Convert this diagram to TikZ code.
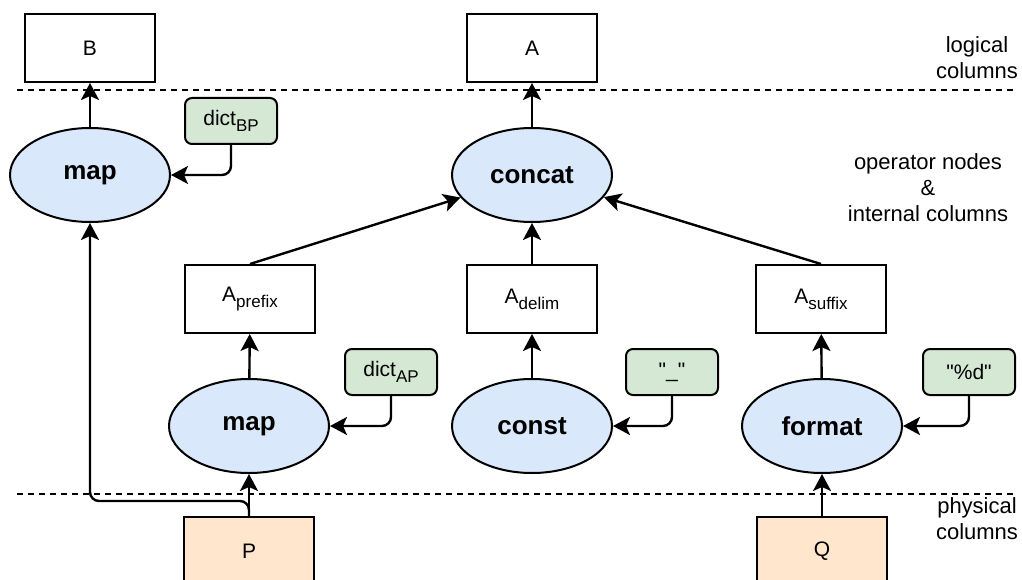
\documentclass[tikz,border=0pt]{standalone}
\usepackage{fontspec}
\setmainfont{Liberation Sans}
\newfontfamily\quotefont{Liberation Sans}[Ligatures=TeXOff]
\usetikzlibrary{shapes.geometric,arrows.meta}
\definecolor{opfill}{HTML}{DAE8FC}
\definecolor{argfill}{HTML}{D5E8D4}
\definecolor{physfill}{HTML}{FFE6CC}
\newcommand{\colsub}[2]{#1\raisebox{-6pt}{\fontsize{17}{17}\selectfont #2}}

\begin{document}
\begin{tikzpicture}[x=1pt,y=-1pt,
    every node/.style={font=\fontsize{21}{25}\selectfont},
    colbox/.style={draw,line width=2pt,minimum width=130pt,minimum height=68pt,inner sep=0pt},
    physbox/.style={colbox,fill=physfill},
    opnode/.style={draw,ellipse,line width=2pt,fill=opfill,minimum width=160pt,minimum height=94pt,inner sep=0pt,font=\fontsize{26}{30}\selectfont\bfseries},
    argbox/.style={draw,rounded corners=7pt,line width=2pt,fill=argfill,minimum width=92pt,minimum height=46pt,inner sep=0pt},
    link/.style={line width=2.4pt,-{Stealth[length=17pt,width=18pt,inset=4pt]}},
    sidetext/.style={align=center,font=\fontsize{22}{26}\selectfont},
    layer/.style={line width=1.6pt,dash pattern=on 6pt off 5pt}]
  \clip (0,0) rectangle (1022,580);

  % layers
  \draw[layer] (17,90) -- (1017,90);
  \draw[layer] (17,494) -- (1017,494);
  \node[sidetext] (logical) at (977,58) {logical\\columns};
  \node[sidetext] (internal) at (928,188) {operator nodes\\\&\\internal columns};
  \node[sidetext] (physical) at (977,519) {physical\\columns};

  % logical columns
  \node[colbox] (B) at (90,48) {B};
  \node[colbox] (A) at (532,48) {A};

  % operator nodes and internal columns
  \node[opnode] (mapB) at (90,175) {map};
  \node[opnode] (concat) at (532,175) {concat};
  \node[argbox] (dictBP) at (231,121) {\colsub{dict}{BP}};
  \node[colbox] (Aprefix) at (250,299) {\colsub{A}{prefix}};
  \node[colbox] (Adelim) at (532,299) {\colsub{A}{delim}};
  \node[colbox] (Asuffix) at (821,299) {\colsub{A}{suffix}};
  \node[opnode] (mapA) at (249,426) {map};
  \node[opnode] (const) at (532,426) {const};
  \node[opnode] (format) at (822,426) {format};
  \node[argbox] (dictAP) at (391,372) {\colsub{dict}{AP}};
  \node[argbox] (delim) at (672,372) {\quotefont "\_"};
  \node[argbox] (fmt) at (969,372) {\quotefont "\%d"};

  % physical columns
  \node[physbox] (P) at (249,551) {P};
  \node[physbox] (Q) at (822,551) {Q};

  \draw[link] (mapB) -- (B);
  \draw[link] (concat) -- (A);
  \draw[link,rounded corners=9pt] (dictBP.south) |- (mapB.east);
  \draw[link] (Aprefix.north) -- (concat);
  \draw[link] (Adelim) -- (concat);
  \draw[link] (Asuffix.north) -- (concat);
  \draw[link] (mapA) -- (Aprefix);
  \draw[link] (const) -- (Adelim);
  \draw[link] (format) -- (Asuffix);
  \draw[link,rounded corners=9pt] (dictAP.south) |- (mapA.east);
  \draw[link,rounded corners=9pt] (delim.south) |- (const.east);
  \draw[link,rounded corners=9pt] (fmt.south) |- (format.east);
  \draw[link] (P) -- (mapA);
  \draw[link,rounded corners=9pt] (P.north) -- ++(0,-15) -| (mapB.south);
  \draw[link] (Q) -- (format);
\end{tikzpicture}
\end{document}
